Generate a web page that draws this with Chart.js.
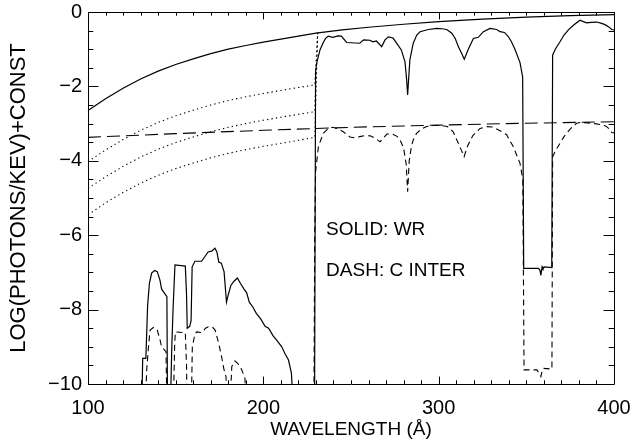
<!DOCTYPE html>
<html>
<head>
<meta charset="utf-8">
<script src="https://cdn.jsdelivr.net/npm/chart.js@4.4.1/dist/chart.umd.min.js"></script>
<style>
  html, body { margin: 0; padding: 0; background: #fff; }
  #wrap { width: 634px; height: 443px; position: relative; }
</style>
</head>
<body>
<div id="wrap"><canvas id="c"></canvas></div>
<script>
// Unabsorbed continuum (solid smooth curve)
const contWave = [100, 110, 120, 130, 140, 150, 160, 170, 180, 190, 200, 210, 220, 230, 245, 260, 280, 300, 325, 350, 375, 400];
const contFlux = [-2.65, -2.33, -2.05, -1.80, -1.59, -1.41, -1.26, -1.12, -1.00, -0.90, -0.81, -0.73, -0.65, -0.57, -0.48, -0.41, -0.33, -0.26, -0.19, -0.14, -0.10, -0.07];

// Absorbed continua below the edge (dotted), each jumping back up at the edge
const edgeWave  = [100, 110, 120, 130, 140, 150, 160, 170, 180, 190, 200, 210, 220, 229.3, 231];
const edgeFluxA = [-4.02, -3.71, -3.43, -3.18, -2.97, -2.79, -2.64, -2.50, -2.38, -2.28, -2.19, -2.11, -2.03, -1.96, -0.56];
const edgeFluxB = [-4.74, -4.43, -4.15, -3.90, -3.69, -3.51, -3.36, -3.22, -3.10, -3.00, -2.91, -2.83, -2.75, -2.68, -0.56];
const edgeFluxC = [-5.45, -5.13, -4.85, -4.60, -4.39, -4.21, -4.06, -3.92, -3.80, -3.70, -3.61, -3.53, -3.45, -3.37, -0.56];

// C INTER continuum (long dashes)
const interContWave = [100, 150, 200, 250, 300, 350, 400];
const interContFlux = [-3.37, -3.27, -3.18, -3.10, -3.04, -2.99, -2.95];

// WR spectrum (solid)
const wrWave = [
  130.5, 131.2, 133.0, 134.0, 135.0, 136.3, 138.0, 139.5, 141.0, 142.0, 143.5, 145.0, 145.4,
  146.8, 147.8, 148.5, 149.6, 155.5, 156.2, 156.6, 158.0, 158.8, 159.4, 161.0, 164.8, 166.0,
  168.5, 170.5, 172.4, 173.5, 174.6, 176.0, 177.6, 179.0, 180.0, 181.5, 183.0, 185.2, 187.0,
  189.0, 190.5, 192.0, 194.0, 196.0, 198.5, 201.0, 203.0, 205.5, 207.6, 210.5, 212.5, 214.3,
  216.0, 217.5, 229.2, 229.8, 230.4, 232.3, 234.2, 235.5, 237.0, 239.6, 242.6, 244.5, 247.5,
  255.0, 257.2, 260.8, 262.5, 264.5, 267.5, 269.4, 271.3, 274.0, 276.8, 278.7, 280.8, 281.7,
  282.3, 283.0, 283.6, 285.5, 287.5, 289.4, 294.1, 298.9, 302.0, 304.6, 307.5, 309.5, 311.2,
  313.0, 314.6, 316.9, 319.8, 322.6, 325.5, 329.3, 333.1, 335.0, 337.5, 339.7, 341.5, 343.5,
  346.4, 347.9, 348.5, 357.0, 357.8, 358.3, 359.0, 359.5, 360.2, 364.5, 365.0, 366.5, 369.2,
  371.5, 374.0, 377.0, 380.6, 382.5, 384.4, 387.0, 390.1, 392.5, 394.9, 397.0, 398.7, 400.0
];
const wrFlux = [
  -11, -9.31, -9.31, -7.9, -7.3, -7.02, -6.95, -6.98, -7.2, -7.45, -7.55, -7.65, -11,
  -11, -9.0, -8.0, -6.80, -6.83, -7.6, -8.5, -8.45, -8.3, -6.85, -6.70, -6.70, -6.62,
  -6.45, -6.43, -6.35, -6.45, -6.72, -6.75, -6.98, -7.8, -7.6, -7.35, -7.25, -7.15, -7.3,
  -7.45, -7.55, -7.8, -7.93, -8.1, -8.25, -8.45, -8.5, -8.7, -8.82, -9.0, -9.2, -9.35,
  -9.7, -11, -11, -1.6, -1.38, -1.02, -0.82, -0.71, -0.65, -0.68, -0.64, -0.65, -0.82,
  -0.84, -0.75, -0.76, -0.80, -0.78, -0.93, -0.75, -0.67, -0.70, -0.89, -1.02, -1.34, -1.8,
  -2.23, -1.7, -1.28, -0.84, -0.62, -0.53, -0.47, -0.44, -0.45, -0.47, -0.57, -0.72, -0.93,
  -1.1, -1.27, -1.0, -0.71, -0.68, -0.53, -0.44, -0.47, -0.53, -0.55, -0.66, -0.8, -1.0,
  -1.36, -1.75, -6.89, -6.89, -6.95, -7.08, -6.85, -6.9, -6.85, -6.87, -1.16, -1.0, -0.80,
  -0.62, -0.48, -0.35, -0.22, -0.26, -0.29, -0.28, -0.27, -0.30, -0.34, -0.40, -0.47, -0.48
];

// C INTER spectrum (dashed)
const ciWave = [
  132.4, 133.5, 134.5, 135.4, 137.3, 139.5, 141.0, 142.0, 144.5, 145.1,
  148.5, 149.4, 149.8, 155.5, 156.2, 156.6, 158.8, 159.5, 161.0, 162.0, 165.0, 167.0, 168.6,
  171.0, 172.5, 174.5, 176.2, 177.5, 178.7, 179.4, 181.0, 182.0, 183.8, 185.5, 187.5, 189.5, 190.5,
  228.8, 229.3, 229.8, 231.4, 234.2, 237.0, 239.5, 242.0, 245.6, 249.4, 252.0, 255.0, 258.0,
  261.0, 264.0, 266.6, 268.5, 270.5, 273.5, 276.5, 278.0, 280.0, 281.5, 282.3, 283.2, 284.5,
  285.5, 287.4, 290.0, 293.1, 297.0, 300.8, 305.0, 308.3, 311.2, 313.0, 314.5, 316.5, 319.5,
  323.6, 327.4, 331.0, 335.0, 337.0, 338.8, 340.5, 342.6, 344.5, 346.4, 348.0, 348.7, 352.0,
  356.0, 357.5, 358.3, 359.2, 360.0, 364.6, 365.0, 367.0, 369.2, 371.5, 374.0, 376.5, 378.7,
  381.0, 385.0, 389.0, 393.0, 395.5, 397.5, 398.7, 400.0
];
const ciFlux = [
  -11, -9.6, -9.0, -8.55, -8.48, -8.55, -8.8, -9.0, -9.13, -11,
  -11, -9.0, -8.6, -8.62, -9.5, -11, -11, -9.0, -8.65, -8.6, -8.62, -8.5, -8.46,
  -8.47, -8.55, -8.9, -9.27, -9.6, -9.8, -10.6, -10.6, -9.53, -9.38, -9.45, -9.6, -9.84, -11,
  -11, -6.0, -4.3, -3.62, -3.26, -3.13, -3.10, -3.13, -3.22, -3.36, -3.38, -3.35, -3.32,
  -3.33, -3.40, -3.49, -3.38, -3.28, -3.28, -3.35, -3.44, -3.65, -4.1, -4.83, -4.0, -3.6,
  -3.44, -3.26, -3.15, -3.08, -3.05, -3.05, -3.08, -3.22, -3.53, -3.72, -3.89, -3.6, -3.32,
  -3.13, -3.08, -3.09, -3.19, -3.25, -3.3, -3.45, -3.62, -3.85, -4.07, -4.5, -9.62, -9.62,
  -9.62, -9.72, -9.8, -9.6, -9.58, -9.6, -3.89, -3.7, -3.53, -3.35, -3.2, -3.07, -2.99,
  -2.97, -2.98, -3.0, -3.03, -3.07, -3.15, -3.24, -3.25
];

// Axis ticks
const xTickValues = [100, 200, 300, 400];
const yTickValues = [-10, -8, -6, -4, -2, 0];

const pts = (xs, ys) => xs.map((x, i) => ({ x: x, y: ys[i] }));
const FONT = '"Liberation Sans", Arial, sans-serif';

function lineSet(xs, ys, width, dash) {
  return {
    data: pts(xs, ys),
    showLine: true,
    borderColor: '#000',
    borderWidth: width,
    borderDash: dash,
    pointRadius: 0,
    fill: false,
    tension: 0,
    clip: 1
  };
}

// Frame with inward ticks on all four sides
const frameTicks = {
  id: 'frameTicks',
  afterDraw(chart) {
    const { ctx, chartArea: a, scales: { x, y } } = chart;
    ctx.save();
    ctx.strokeStyle = '#000';
    ctx.lineWidth = 1;
    ctx.beginPath();
    ctx.rect(Math.round(a.left) + 0.5, Math.round(a.top) + 0.5,
             Math.round(a.right - a.left), Math.round(a.bottom - a.top));
    ctx.stroke();
    ctx.beginPath();
    for (let v = 100; v <= 400; v += 10) {
      const px = Math.round(x.getPixelForValue(v)) + 0.5;
      const len = (v % 100 === 0) ? 7.4 : 3.7;
      ctx.moveTo(px, a.bottom); ctx.lineTo(px, a.bottom - len);
      ctx.moveTo(px, a.top); ctx.lineTo(px, a.top + len);
    }
    for (let k = -20; k <= 0; k++) {
      const v = k / 2;
      const py = Math.round(y.getPixelForValue(v)) + 0.5;
      const len = (k % 4 === 0) ? 10.5 : 5.3;
      ctx.moveTo(a.left, py); ctx.lineTo(a.left + len, py);
      ctx.moveTo(a.right, py); ctx.lineTo(a.right - len, py);
    }
    ctx.stroke();
    ctx.restore();
  }
};

// In-plot legend text
const legendText = {
  id: 'legendText',
  afterDatasetsDraw(chart) {
    const { ctx, scales: { x, y } } = chart;
    ctx.save();
    ctx.fillStyle = '#000';
    ctx.font = '19px ' + FONT;
    ctx.textAlign = 'left';
    ctx.textBaseline = 'middle';
    const lx = x.getPixelForValue(235.8);
    ctx.fillText('SOLID: WR', lx, y.getPixelForValue(-5.86));
    ctx.fillText('DASH: C INTER', lx, y.getPixelForValue(-6.96));
    ctx.restore();
  }
};

new Chart(document.getElementById('c'), {
  type: 'scatter',
  data: {
    datasets: [
      lineSet(contWave, contFlux, 1.2, []),
      lineSet(edgeWave, edgeFluxA, 1.1, [1.3, 3.2]),
      lineSet(edgeWave, edgeFluxB, 1.1, [1.3, 3.2]),
      lineSet(edgeWave, edgeFluxC, 1.1, [1.3, 3.2]),
      lineSet(interContWave, interContFlux, 1.1, [13, 6]),
      lineSet(wrWave, wrFlux, 1.2, []),
      lineSet(ciWave, ciFlux, 1.1, [6, 4])
    ]
  },
  options: {
    responsive: true,
    maintainAspectRatio: false,
    animation: false,
    events: [],
    layout: { padding: { top: 12, right: 20, left: 0, bottom: 0 } },
    plugins: { legend: { display: false }, tooltip: { enabled: false } },
    scales: {
      x: {
        type: 'linear', min: 100, max: 400,
        afterFit(s) { s.height = 59; s.paddingLeft = 0; s.paddingRight = 0; },
        afterBuildTicks(s) { s.ticks = xTickValues.map(v => ({ value: v })); },
        grid: { display: false, drawTicks: false },
        border: { display: false },
        ticks: { color: '#000', padding: 12, maxRotation: 0, font: { family: FONT, size: 20 } },
        title: { display: true, text: 'WAVELENGTH (Å)', color: '#000', padding: { top: 0, bottom: 2 }, font: { family: FONT, size: 19 } }
      },
      y: {
        type: 'linear', min: -10, max: 0,
        afterFit(s) { s.width = 88; s.paddingTop = 0; s.paddingBottom = 0; },
        afterBuildTicks(s) { s.ticks = yTickValues.map(v => ({ value: v })); },
        grid: { display: false, drawTicks: false },
        border: { display: false },
        ticks: {
          color: '#000', padding: 6, font: { family: FONT, size: 20 },
          callback: v => (v < 0 ? '\u2212' + Math.abs(v) : String(v))
        },
        title: { display: true, text: 'LOG(PHOTONS/KEV)+CONST', color: '#000', padding: { top: 6, bottom: 0 }, font: { family: FONT, size: 22 } }
      }
    }
  },
  plugins: [frameTicks, legendText]
});
</script>
</body>
</html>
